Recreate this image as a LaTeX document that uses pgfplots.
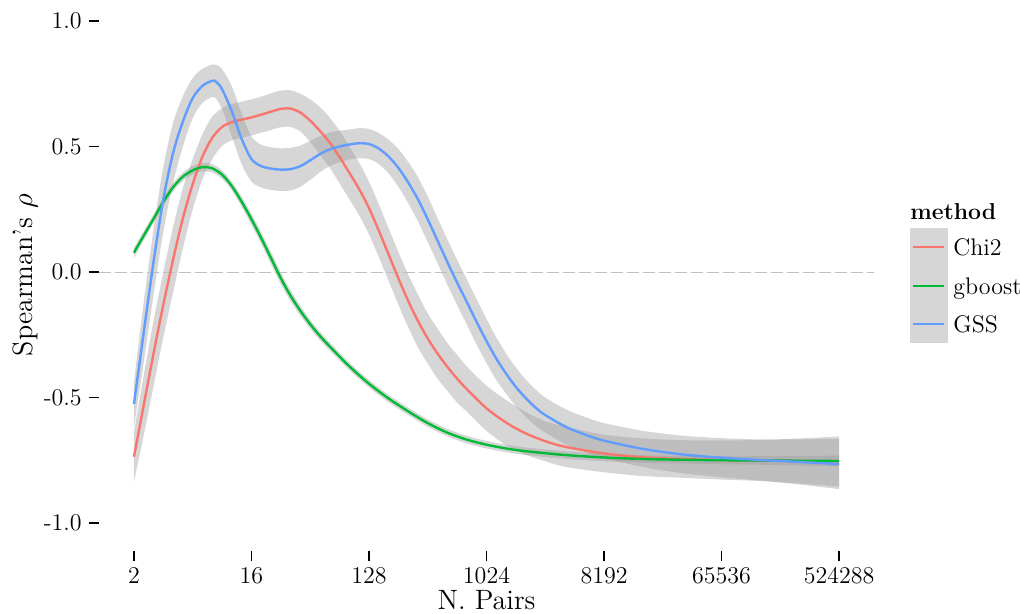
\documentclass[border=0pt]{standalone}
\usepackage{fontspec}
\usepackage{pgfplots}
\pgfplotsset{compat=1.18}
\usepackage{pgfplotstable}
\usepgfplotslibrary{fillbetween}
\definecolor{cchi}{HTML}{F8766D}
\definecolor{cgb}{HTML}{00BA38}
\definecolor{cgss}{HTML}{619CFF}

% l = log2(N. Pairs); v = smoothed Spearman's rho; lo/hi = confidence band
\pgfplotstableread{
l v lo hi
1.0 -0.736 -0.836 -0.636
1.25 -0.53 -0.65 -0.41
1.5 -0.325 -0.455 -0.195
1.75 -0.13 -0.26 0.0
2.0 0.05 -0.08 0.18
2.25 0.215 0.095 0.335
2.5 0.35 0.25 0.45
2.75 0.46 0.37 0.55
3.0 0.535 0.45 0.62
3.25 0.578 0.503 0.653
3.5 0.597 0.525 0.669
3.75 0.607 0.535 0.679
4.0 0.616 0.544 0.688
4.25 0.627 0.555 0.699
4.5 0.639 0.566 0.712
4.75 0.65 0.577 0.723
5.0 0.651 0.578 0.724
5.25 0.635 0.56 0.71
5.5 0.603 0.518 0.688
5.75 0.562 0.467 0.657
6.0 0.515 0.415 0.615
6.25 0.458 0.353 0.563
6.5 0.395 0.29 0.50
6.75 0.33 0.225 0.435
7.0 0.255 0.15 0.36
7.25 0.165 0.06 0.27
7.5 0.07 -0.035 0.175
7.75 -0.025 -0.13 0.08
8.0 -0.115 -0.22 -0.01
8.25 -0.195 -0.30 -0.09
8.5 -0.265 -0.365 -0.165
8.75 -0.325 -0.425 -0.225
9.0 -0.378 -0.473 -0.283
9.25 -0.425 -0.52 -0.33
9.5 -0.467 -0.557 -0.377
10.0 -0.543 -0.633 -0.453
10.5 -0.6 -0.69 -0.51
11.0 -0.643 -0.728 -0.558
11.5 -0.674 -0.754 -0.594
12.0 -0.696 -0.776 -0.616
13.0 -0.723 -0.798 -0.648
14.0 -0.738 -0.813 -0.663
15.0 -0.745 -0.82 -0.67
16.0 -0.749 -0.827 -0.671
17.0 -0.751 -0.833 -0.669
18.0 -0.753 -0.843 -0.663
19.0 -0.755 -0.855 -0.655
}\tabchi

\pgfplotstableread{
l v lo hi
1.0 0.077 0.057 0.097
1.25 0.145 0.127 0.163
1.5 0.212 0.195 0.229
1.75 0.28 0.263 0.297
2.0 0.338 0.321 0.355
2.25 0.38 0.363 0.397
2.5 0.405 0.388 0.422
2.75 0.418 0.401 0.435
3.0 0.413 0.396 0.43
3.25 0.388 0.371 0.405
3.5 0.342 0.325 0.359
3.75 0.28 0.26 0.30
4.0 0.21 0.188 0.232
4.25 0.135 0.112 0.158
4.5 0.055 0.031 0.079
4.75 -0.025 -0.049 -0.001
5.0 -0.095 -0.117 -0.073
5.25 -0.155 -0.175 -0.135
5.5 -0.208 -0.226 -0.19
5.75 -0.255 -0.272 -0.238
6.0 -0.297 -0.313 -0.281
6.5 -0.376 -0.391 -0.361
7.0 -0.445 -0.46 -0.43
7.5 -0.504 -0.519 -0.489
8.0 -0.555 -0.57 -0.54
8.5 -0.602 -0.617 -0.587
9.0 -0.64 -0.655 -0.625
9.5 -0.668 -0.683 -0.653
10.0 -0.688 -0.703 -0.673
10.5 -0.703 -0.718 -0.688
11.0 -0.714 -0.729 -0.699
12.0 -0.729 -0.744 -0.714
13.0 -0.739 -0.754 -0.724
14.0 -0.745 -0.76 -0.73
15.0 -0.748 -0.763 -0.733
16.0 -0.75 -0.766 -0.734
17.0 -0.751 -0.768 -0.734
18.0 -0.752 -0.771 -0.733
19.0 -0.753 -0.775 -0.731
}\tabgb

\pgfplotstableread{
l v lo hi
1.0 -0.526 -0.616 -0.436
1.25 -0.24 -0.36 -0.12
1.5 0.04 -0.09 0.17
1.75 0.29 0.16 0.42
2.0 0.475 0.355 0.595
2.25 0.6 0.5 0.70
2.5 0.693 0.613 0.773
2.75 0.742 0.674 0.81
3.0 0.762 0.697 0.827
3.1 0.758 0.69 0.826
3.25 0.728 0.648 0.808
3.5 0.64 0.54 0.74
3.75 0.53 0.43 0.63
4.0 0.45 0.36 0.54
4.25 0.422 0.337 0.507
4.5 0.412 0.327 0.497
4.75 0.408 0.323 0.493
5.0 0.41 0.325 0.495
5.25 0.422 0.34 0.504
5.5 0.445 0.367 0.523
5.75 0.47 0.398 0.542
6.0 0.489 0.422 0.556
6.25 0.5 0.437 0.563
6.5 0.508 0.448 0.568
6.75 0.513 0.453 0.573
7.0 0.51 0.45 0.57
7.25 0.492 0.43 0.554
7.5 0.46 0.393 0.527
7.75 0.415 0.34 0.49
8.0 0.357 0.275 0.439
8.25 0.29 0.202 0.378
8.5 0.21 0.12 0.30
8.75 0.125 0.035 0.215
9.0 0.04 -0.05 0.13
9.25 -0.042 -0.132 0.048
9.5 -0.12 -0.21 -0.03
9.75 -0.2 -0.29 -0.11
10.0 -0.275 -0.363 -0.187
10.25 -0.345 -0.43 -0.26
10.5 -0.405 -0.485 -0.325
10.75 -0.458 -0.535 -0.381
11.0 -0.502 -0.576 -0.428
11.25 -0.54 -0.612 -0.468
11.5 -0.57 -0.64 -0.50
12.0 -0.615 -0.685 -0.545
12.5 -0.647 -0.717 -0.577
13.0 -0.672 -0.742 -0.602
14.0 -0.705 -0.777 -0.633
15.0 -0.727 -0.802 -0.652
16.0 -0.74 -0.818 -0.662
17.0 -0.749 -0.831 -0.667
18.0 -0.757 -0.847 -0.667
19.0 -0.765 -0.865 -0.665
}\tabgss

\begin{document}
\begin{tikzpicture}
\begin{axis}[
  at={(0,0)}, anchor=south west,
  scale only axis, width=387.8pt, height=271.05pt,
  xmin=0.1, xmax=19.9, ymin=-1.11, ymax=1.05,
  axis line style={draw=none},
  tick align=outside, major tick length=5pt,
  xtick pos=bottom, ytick pos=left,
  tick style={black, line width=0.6pt},
  xtick={1,4,7,10,13,16,19},
  xticklabels={2,16,128,1024,8192,65536,524288},
  ytick={-1,-0.5,0,0.5,1},
  yticklabels={-1.0,-0.5,0.0,0.5,1.0},
  ticklabel style={font=\fontsize{12}{14}\selectfont},
  xlabel={N. Pairs}, ylabel={Spearman's $\rho$},
  label style={font=\fontsize{14}{16}\selectfont},
  xlabel style={at={(axis description cs:0.5,-0.0905)}, anchor=center},
  ylabel style={at={(axis description cs:-0.095,0.508)}, anchor=center},
  clip=false,
]
\addplot[black!25, line width=0.5pt, dash pattern=on 6pt off 2pt, forget plot] coordinates {(0.1,0) (19.9,0)};

% Chi2
\addplot[name path=chiU, draw=none, smooth, forget plot] table[x=l, y=hi] {\tabchi};
\addplot[name path=chiL, draw=none, smooth, forget plot] table[x=l, y=lo] {\tabchi};
\addplot[fill=black!40, fill opacity=0.4, draw=none, forget plot] fill between[of=chiU and chiL];
\addplot[cchi, line width=1.2pt, smooth] table[x=l, y=v] {\tabchi};

% gboost
\addplot[name path=gbU, draw=none, smooth, forget plot] table[x=l, y=hi] {\tabgb};
\addplot[name path=gbL, draw=none, smooth, forget plot] table[x=l, y=lo] {\tabgb};
\addplot[fill=black!40, fill opacity=0.4, draw=none, forget plot] fill between[of=gbU and gbL];
\addplot[cgb, line width=1.2pt, smooth] table[x=l, y=v] {\tabgb};

% GSS
\addplot[name path=gsU, draw=none, smooth, forget plot] table[x=l, y=hi] {\tabgss};
\addplot[name path=gsL, draw=none, smooth, forget plot] table[x=l, y=lo] {\tabgss};
\addplot[fill=black!40, fill opacity=0.4, draw=none, forget plot] fill between[of=gsU and gsL];
\addplot[cgss, line width=1.2pt, smooth] table[x=l, y=v] {\tabgss};
\end{axis}

% legend
\node[anchor=base west, inner sep=0pt, font=\fontsize{11.5}{13}\selectfont\bfseries] at (405.65pt,165.3pt) {method};
\fill[black!40, fill opacity=0.4] (405.65pt,103.8pt) rectangle (424.65pt,161.3pt);
\draw[cchi, line width=0.8pt] (407.15pt,151.8pt) -- (422.65pt,151.8pt);
\draw[cgb, line width=0.8pt] (407.15pt,132.3pt) -- (422.65pt,132.3pt);
\draw[cgss, line width=0.8pt] (407.15pt,113.3pt) -- (422.65pt,113.3pt);
\node[anchor=base west, inner sep=0pt, font=\fontsize{12}{14}\selectfont] at (427.15pt,147.7pt) {Chi2};
\node[anchor=base west, inner sep=0pt, font=\fontsize{12}{14}\selectfont] at (427.15pt,128.2pt) {gboost};
\node[anchor=base west, inner sep=0pt, font=\fontsize{12}{14}\selectfont] at (427.15pt,109.2pt) {GSS};

\pgfresetboundingbox
\path[use as bounding box] (-49.35pt,-31.7pt) rectangle (460.65pt,275.3pt);
\end{tikzpicture}
\end{document}
